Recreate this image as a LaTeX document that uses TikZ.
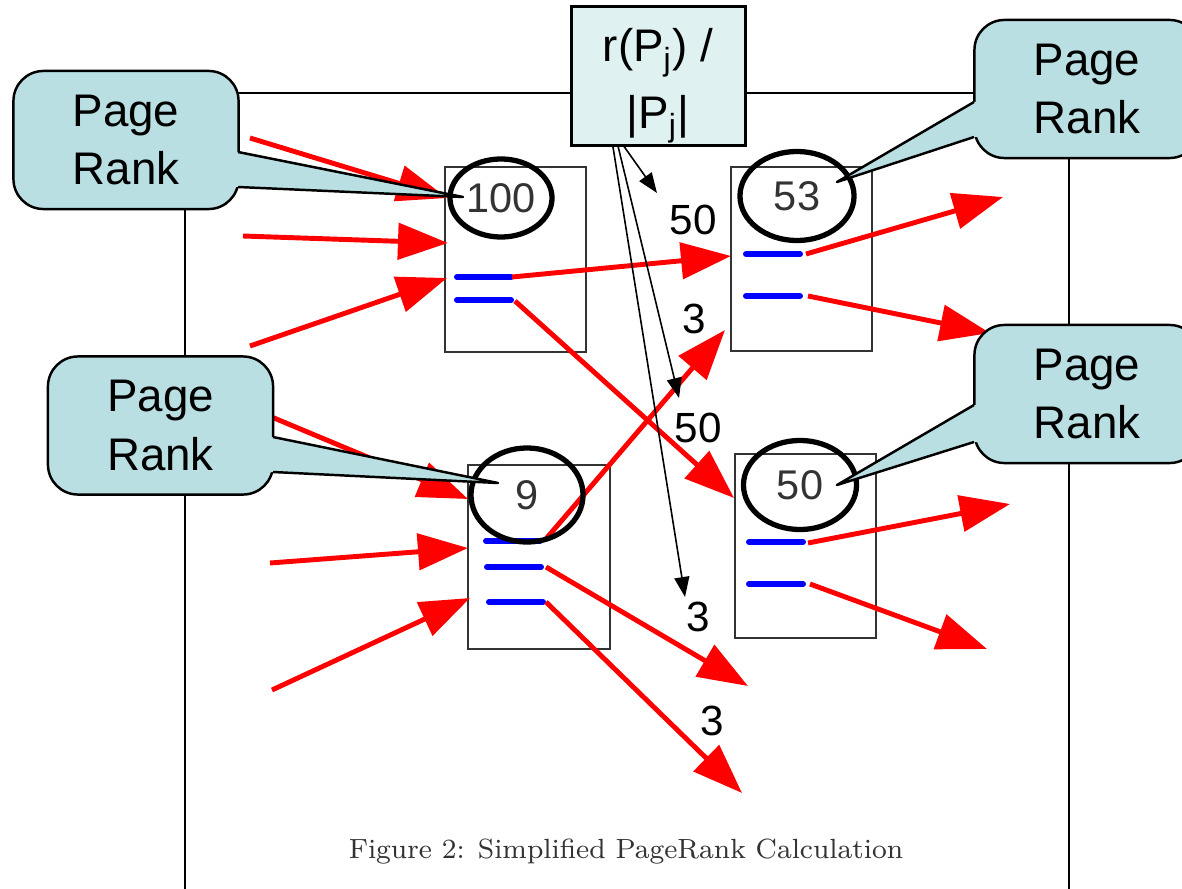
\documentclass[tikz,border=0pt]{standalone}
\usepackage{fontspec}
\newfontfamily\arial{Liberation Sans}
\usetikzlibrary{arrows.meta,shapes.geometric}
\definecolor{calfill}{HTML}{B9DFE2}
\definecolor{formfill}{HTML}{DFF1F1}
\definecolor{boxgray}{HTML}{333333}

\begin{document}
\begin{tikzpicture}
  [x=0.01cm,y=-0.01cm,
   page/.style={draw=boxgray,line width=0.55pt,minimum width=1.41cm,minimum height=1.84cm},
   rank/.style={draw,ellipse,line width=1.5pt,inner sep=0pt,text=boxgray,font=\arial\fontsize{11.8}{14}\selectfont},
   callout/.style={draw,fill=calfill,line width=0.7pt,rounded corners=0.3cm,minimum width=2.25cm,minimum height=1.38cm,align=center,font=\arial\fontsize{13}{16.5}\selectfont},
   weight/.style={font=\arial\fontsize{12}{14}\selectfont},
   link/.style={red,line width=1.4pt,-{Triangle[length=5mm,width=3.6mm]}},
   outlink/.style={blue,line width=1.7pt,line cap=round},
   ptr/.style={line width=0.45pt,-{Triangle[length=2mm,width=1.5mm]}}]
  \useasboundingbox (0,0) rectangle (1182,888);
  \draw[line width=0.7pt] (185,900) -- (185,93) -- (1069,93) -- (1069,900);

  \node[page] (pA) at (515.5,259.5) {};
  \node[page] (pB) at (801.5,259) {};
  \node[page] (pC) at (539,557) {};
  \node[page] (pD) at (805.5,546) {};

  \foreach \x/\y in {457/277,457/300,746/254,746/296,486/541,487/567,489/602,749/542,749/584}
    \draw[outlink] (\x,\y) -- ++(54,0);

  \coordinate (inA1) at (250,138);  \coordinate (tA1) at (447,198);
  \coordinate (inA2) at (243,236);  \coordinate (tA2) at (448,243);
  \coordinate (inA3) at (250,346);  \coordinate (tA3) at (447,278);
  \coordinate (inC1) at (262,413);  \coordinate (tC1) at (468,499);
  \coordinate (inC2) at (270,563);  \coordinate (tC2) at (468,548);
  \coordinate (inC3) at (272,690);  \coordinate (tC3) at (470,598);
  \coordinate (oA1) at (512,277);   \coordinate (tB1) at (731,256);
  \coordinate (oA2) at (515,301);   \coordinate (tD1) at (734,498);
  \coordinate (oC1) at (545,540);   \coordinate (tB2) at (725,330);
  \coordinate (oC2) at (546,567);   \coordinate (xC2) at (748,686);
  \coordinate (oC3) at (546,602);   \coordinate (xC3) at (742,793);
  \coordinate (oB1) at (806,254);   \coordinate (xB1) at (1003,197);
  \coordinate (oB2) at (808,296);   \coordinate (xB2) at (990,333);
  \coordinate (oD1) at (808,543);   \coordinate (xD1) at (1010,504);
  \coordinate (oD2) at (810,584);   \coordinate (xD2) at (987,649);
  \foreach \from/\to in {inA1/tA1,inA2/tA2,inA3/tA3,inC1/tC1,inC2/tC2,inC3/tC3,oA1/tB1,oA2/tD1,oC1/tB2,oC2/xC2,oC3/xC3,oB1/xB1,oB2/xB2,oD1/xD1,oD2/xD2}
    \draw[link] (\from) -- (\to);

  \node[rank,minimum width=1.02cm,minimum height=0.78cm] (rA) at (501,198) {100};
  \node[rank,minimum width=1.14cm,minimum height=0.89cm] (rB) at (797,196) {53};
  \node[rank,minimum width=1.12cm,minimum height=0.94cm] (rC) at (527,495) {9};
  \node[rank,minimum width=1.13cm,minimum height=0.89cm] (rD) at (800,485) {50};

  \node[weight] (w1) at (693,220) {50};
  \node[weight] (w2) at (694,319) {3};
  \node[weight] (w3) at (698,428) {50};
  \node[weight] (w4) at (698,617) {3};
  \node[weight] (w5) at (712,721) {3};

  \node[draw,fill=formfill,line width=0.85pt,minimum width=1.73cm,minimum height=1.38cm] (rbox) at (658.5,76) {};
  \node[align=center,font=\arial\fontsize{13}{19}\selectfont] (rtext) at (658,86) {r(P\textsubscript{j}) /\\|P\textsubscript{j}|};
  \coordinate (r1) at (623,145);  \coordinate (s1) at (657,193);
  \coordinate (r2) at (618,146);  \coordinate (s2) at (679,398);
  \coordinate (r3) at (613,147);  \coordinate (s3) at (685,597);
  \foreach \from/\to in {r1/s1,r2/s2,r3/s3}
    \draw[ptr] (\from) -- (\to);

  \node[callout] (cal1) at (126,140) {Page\\Rank};
  \node[callout] (cal2) at (1087,89) {Page\\Rank};
  \node[callout] (cal3) at (1087,394) {Page\\Rank};
  \node[callout] (cal4) at (160.5,425.5) {Page\\Rank};
  \foreach \bx/\ya/\yb/\tx/\ty/\dx in {238/152/187/463/197/-5,974/102/137/837/182/5,974/405/442/837/485/5,273/437/472/498/483/-5}
  {
    \fill[calfill] (\bx,\ya) -- (\tx,\ty) -- (\bx,\yb) -- (\bx+\dx,\yb) -- (\bx+\dx,\ya) -- cycle;
    \draw[line width=0.7pt,line join=round] (\bx,\ya) -- (\tx,\ty) -- (\bx,\yb);
  }

  \node[font=\fontsize{7.9}{10}\selectfont,text=boxgray] (caption) at (626,852) {Figure 2: Simplified PageRank Calculation};
\end{tikzpicture}
\end{document}
